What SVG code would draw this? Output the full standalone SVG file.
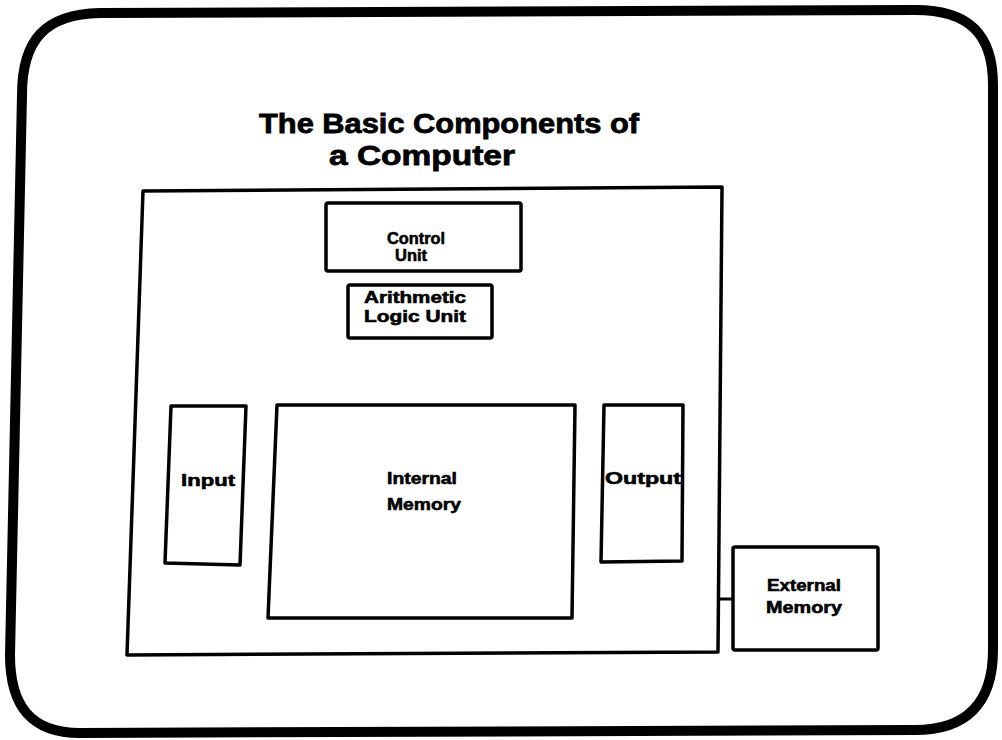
<svg xmlns="http://www.w3.org/2000/svg" width="1002" height="740" viewBox="0 0 1002 740">
  <style>
    .frame { fill: none; stroke: #000; stroke-width: 10; stroke-linejoin: round; }
    .box { fill: #fff; stroke: #000; stroke-width: 3.5; stroke-linejoin: round; }
    .wire { fill: none; stroke: #000; stroke-width: 3; }
    .title { font-family: "Liberation Sans", Arial, sans-serif; font-weight: bold; font-size: 28px; fill: #000; stroke: #000; stroke-width: 0.8; text-anchor: middle; }
    .label { font-family: "Liberation Sans", Arial, sans-serif; font-weight: bold; font-size: 17px; fill: #000; stroke: #000; stroke-width: 0.6; text-anchor: middle; }
  </style>
  <rect width="1002" height="740" fill="#fff"/>

  <!-- slide border with rounded corners -->
  <path class="frame" d="M 22 95 C 22 40 45 14 100 13 L 915 10 C 970 10 993 35 993 85 L 993 650 C 993 705 965 730 915 730 L 80 733 C 30 733 10 705 10 655 Z"/>

  <!-- heading -->
  <g id="title">
    <text class="title" x="449" y="133" textLength="380" lengthAdjust="spacingAndGlyphs">The Basic Components of</text>
    <text class="title" x="422" y="165" textLength="186" lengthAdjust="spacingAndGlyphs">a Computer</text>
  </g>

  <!-- computer enclosure -->
  <g id="computer">
    <polygon class="box" points="143,191 722,187 718,652 127,655"/>
  </g>

  <g id="control-unit">
    <rect class="box" x="326" y="203" width="195" height="68" rx="2"/>
    <text class="label" x="416" y="244" textLength="58" lengthAdjust="spacingAndGlyphs">Control</text>
    <text class="label" x="411" y="261" textLength="32" lengthAdjust="spacingAndGlyphs">Unit</text>
  </g>

  <g id="alu">
    <rect class="box" x="348" y="285" width="144" height="53" rx="2"/>
    <text class="label" x="415" y="303" textLength="102" lengthAdjust="spacingAndGlyphs">Arithmetic</text>
    <text class="label" x="415" y="322" textLength="102" lengthAdjust="spacingAndGlyphs">Logic Unit</text>
  </g>

  <g id="input">
    <polygon class="box" points="171,406 246,406 240,565 165,563"/>
    <text class="label" x="208" y="486" textLength="54" lengthAdjust="spacingAndGlyphs">Input</text>
  </g>

  <g id="internal-memory">
    <polygon class="box" points="277,405 575,405 572,618 268,618"/>
    <text class="label" x="422" y="484" textLength="70" lengthAdjust="spacingAndGlyphs">Internal</text>
    <text class="label" x="424" y="510" textLength="74" lengthAdjust="spacingAndGlyphs">Memory</text>
  </g>

  <g id="output">
    <polygon class="box" points="604,405 683,405 682,561 601,562"/>
    <text class="label" x="643" y="484" textLength="76" lengthAdjust="spacingAndGlyphs">Output</text>
  </g>

  <g id="external-memory">
    <rect class="box" x="733" y="547" width="145" height="103" rx="2"/>
    <text class="label" x="804" y="591" textLength="74" lengthAdjust="spacingAndGlyphs">External</text>
    <text class="label" x="804" y="613" textLength="76" lengthAdjust="spacingAndGlyphs">Memory</text>
  </g>

  <g id="connectors">
    <line class="wire" x1="719" y1="599" x2="733" y2="599"/>
  </g>
</svg>
